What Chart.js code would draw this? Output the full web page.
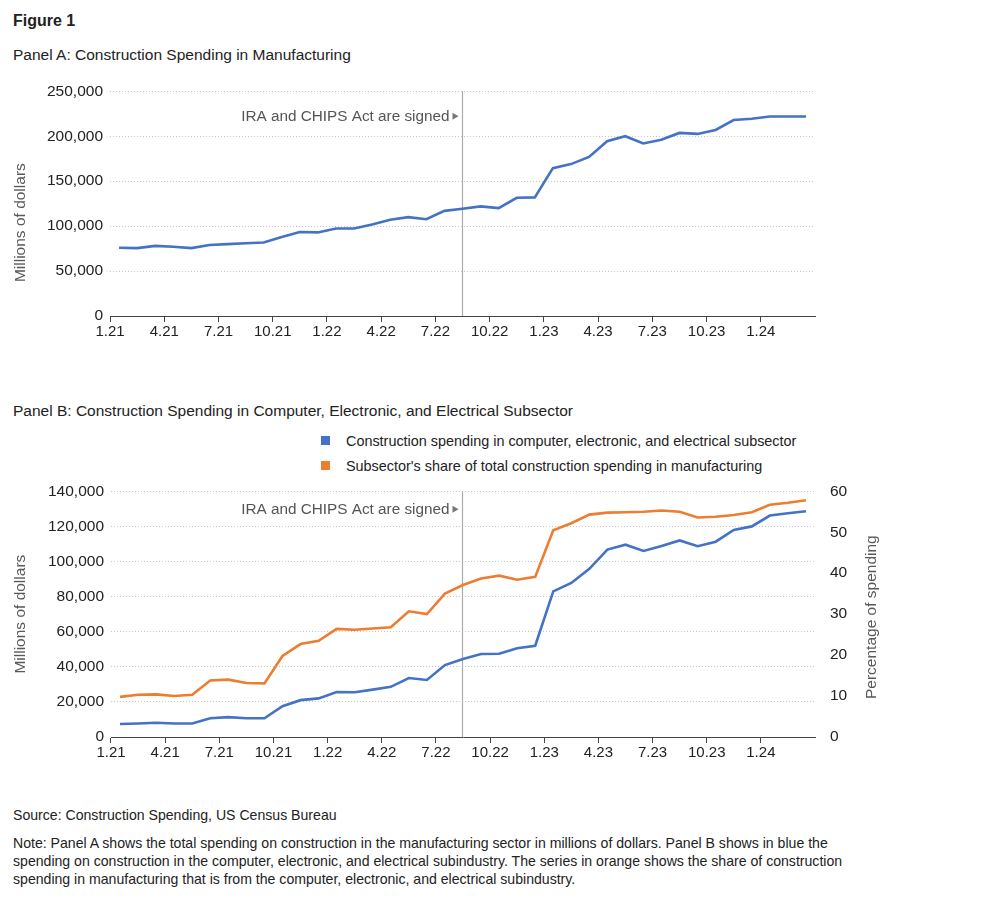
<!DOCTYPE html>
<html>
<head>
<meta charset="utf-8">
<script src="https://cdn.jsdelivr.net/npm/chart.js@4.4.1/dist/chart.umd.min.js"></script>
<style>
  body { margin: 0; background: #fff; font-family: "Liberation Sans", Arial, sans-serif; color: #222; }
  .t { position: absolute; left: 13px; white-space: nowrap; line-height: 18px; }
  .box { position: absolute; left: 0; width: 991px; }
  .leg { position: absolute; left: 346px; font-size: 14.4px; line-height: 18px; white-space: nowrap; }
  .sq { position: absolute; left: -25px; top: 4px; width: 9px; height: 9px; }
</style>
</head>
<body>
<div class="t" style="top:12px;font-size:16px;font-weight:bold;">Figure 1</div>
<div class="t" style="top:46px;font-size:15.5px;">Panel A: Construction Spending in Manufacturing</div>
<div class="box" style="top:75px;height:275px;"><canvas id="chartA"></canvas></div>

<div class="t" style="top:402px;font-size:15.5px;">Panel B: Construction Spending in Computer, Electronic, and Electrical Subsector</div>
<div class="leg" style="top:432px;"><span class="sq" style="background:#4472c4"></span>Construction spending in computer, electronic, and electrical subsector</div>
<div class="leg" style="top:457px;"><span class="sq" style="background:#ed7d31"></span>Subsector's share of total construction spending in manufacturing</div>
<div class="box" style="top:475px;height:300px;"><canvas id="chartB"></canvas></div>

<div class="t" style="top:806px;font-size:14.1px;">Source: Construction Spending, US Census Bureau</div>
<div class="t" style="top:834px;font-size:14.1px;">Note: Panel A shows the total spending on construction in the manufacturing sector in millions of dollars. Panel B shows in blue the<br>spending on construction in the computer, electronic, and electrical subindustry. The series in orange shows the share of construction<br>spending in manufacturing that is from the computer, electronic, and electrical subindustry.</div>

<script>
const months = ['1.21','2.21','3.21','4.21','5.21','6.21','7.21','8.21','9.21','10.21','11.21','12.21',
  '1.22','2.22','3.22','4.22','5.22','6.22','7.22','8.22','9.22','10.22','11.22','12.22',
  '1.23','2.23','3.23','4.23','5.23','6.23','7.23','8.23','9.23','10.23','11.23','12.23',
  '1.24','2.24','3.24'];

// millions of dollars
const manufacturing = [76000, 75500, 78000, 77000, 75500, 79000, 80000, 81000, 81700, 88000, 93400, 93000,
  97400, 97400, 101800, 107000, 110000, 107700, 117000, 119400, 122000, 120000, 131500, 132000,
  164500, 169000, 177000, 194500, 200000, 192000, 196000, 203700, 202600, 207000, 218000, 219400,
  222000, 222000, 222000];

const computer = [7400, 7700, 8100, 7700, 7700, 10700, 11300, 10700, 10700, 17500, 21000, 22000,
  25600, 25500, 27000, 28600, 33600, 32500, 41000, 44500, 47300, 47400, 50600, 52000,
  83000, 87800, 95800, 106800, 109600, 106000, 108900, 112000, 108700, 111300, 118000, 120000,
  126200, 127500, 128600];

// percent of total manufacturing construction spending
const share = [9.8, 10.3, 10.4, 10.0, 10.3, 13.8, 14.0, 13.2, 13.1, 19.8, 22.7, 23.5,
  26.4, 26.2, 26.5, 26.8, 30.7, 30.0, 35.0, 37.1, 38.7, 39.4, 38.4, 39.1,
  50.5, 52.2, 54.3, 54.8, 54.9, 55.0, 55.3, 55.0, 53.6, 53.8, 54.2, 54.9,
  56.7, 57.2, 57.8];

const eventMonth = '8.22';
const eventText = 'IRA and CHIPS Act are signed';

const blue = '#4472c4';
const orange = '#ed7d31';
const family = '"Liberation Sans", Arial, sans-serif';

// vertical marker line + label
const eventLine = {
  id: 'eventLine',
  beforeDatasetsDraw(chart, args, opts) {
    const { ctx, chartArea } = chart;
    const x = Math.round(chart.scales.x.getPixelForValue(months.indexOf(eventMonth)) - 1) + 0.5;
    ctx.save();
    ctx.strokeStyle = '#aaa';
    ctx.lineWidth = 1.2;
    ctx.beginPath();
    ctx.moveTo(x, chartArea.top);
    ctx.lineTo(x, chartArea.bottom);
    ctx.stroke();
    const y = chartArea.top + opts.offset;
    ctx.fillStyle = '#555';
    ctx.font = '15.3px ' + family;
    ctx.textAlign = 'right';
    ctx.textBaseline = 'middle';
    ctx.fillText(eventText, x - 13, y);
    ctx.fillStyle = '#777';
    ctx.beginPath();
    ctx.moveTo(x - 10, y - 3.5);
    ctx.lineTo(x - 4, y);
    ctx.lineTo(x - 10, y + 3.5);
    ctx.closePath();
    ctx.fill();
    ctx.restore();
  }
};

// axis titles, both reading bottom to top
const axisTitles = {
  id: 'axisTitles',
  afterDraw(chart, args, opts) {
    const { ctx, chartArea } = chart;
    const mid = (chartArea.top + chartArea.bottom) / 2;
    ctx.save();
    ctx.fillStyle = '#595959';
    ctx.font = '15.5px ' + family;
    ctx.textAlign = 'center';
    ctx.textBaseline = 'middle';
    opts.items.forEach(t => {
      ctx.save();
      ctx.translate(t.x, mid + t.dy);
      ctx.rotate(-Math.PI / 2);
      ctx.fillText(t.text, 0, 0);
      ctx.restore();
    });
    ctx.restore();
  }
};

function xAxis(height) {
  return {
    type: 'category',
    offset: true,
    grid: {
      offset: true,
      drawOnChartArea: false,
      tickLength: 6,
      tickColor: c => (c.index % 3 === 0 ? '#444' : 'transparent')
    },
    border: { display: true, color: '#444' },
    ticks: {
      autoSkip: false,
      maxRotation: 0,
      labelOffset: -9,
      padding: 1,
      color: '#222',
      font: { family: family, size: 15 },
      callback: (v, i) => (i % 3 === 0 ? months[i] : '')
    },
    afterFit: s => { s.height = height; }
  };
}

function yAxis(max, step, width) {
  return {
    min: 0, max: max,
    grid: { color: '#c8c8c8', drawTicks: false, lineWidth: 1 },
    border: { display: false, dash: [1, 2] },
    ticks: {
      stepSize: step, padding: 7, color: '#222', font: { family: family, size: 15.5 },
      callback: v => v.toLocaleString('en-US')
    },
    afterFit: s => { s.width = width; }
  };
}

const lineStyle = { pointRadius: 0, borderWidth: 2.6, tension: 0, fill: false };

new Chart(document.getElementById('chartA'), {
  type: 'line',
  data: {
    labels: months,
    datasets: [Object.assign({ label: 'Construction spending in manufacturing', data: manufacturing, borderColor: blue }, lineStyle)]
  },
  options: {
    responsive: true, maintainAspectRatio: false, animation: false,
    layout: { padding: { top: 14, right: 176, bottom: 0, left: 0 } },
    plugins: {
      legend: { display: false }, tooltip: { enabled: false },
      eventLine: { offset: 25 },
      axisTitles: { items: [{ text: 'Millions of dollars', x: 21, dy: 19 }] }
    },
    scales: {
      x: xAxis(34),
      y: yAxis(250000, 50000, 110)
    }
  },
  plugins: [eventLine, axisTitles]
});

new Chart(document.getElementById('chartB'), {
  type: 'line',
  data: {
    labels: months,
    datasets: [
      Object.assign({ label: 'Construction spending in computer, electronic, and electrical subsector', data: computer, borderColor: blue, yAxisID: 'y' }, lineStyle),
      Object.assign({ label: "Subsector's share of total construction spending in manufacturing", data: share, borderColor: orange, yAxisID: 'y1' }, lineStyle)
    ]
  },
  options: {
    responsive: true, maintainAspectRatio: false, animation: false,
    layout: { padding: { top: 9, right: 106, bottom: 0, left: 0 } },
    plugins: {
      legend: { display: false }, tooltip: { enabled: false },
      eventLine: { offset: 18 },
      axisTitles: { items: [
        { text: 'Millions of dollars', x: 21, dy: 0 },
        { text: 'Percentage of spending', x: 872, dy: 3 }
      ] }
    },
    scales: {
      x: xAxis(38),
      y: yAxis(140000, 20000, 111),
      y1: {
        position: 'right',
        min: 0, max: 60,
        grid: { display: false },
        border: { display: false },
        ticks: { stepSize: 10, padding: 7, color: '#222', font: { family: family, size: 15.5 } },
        afterFit: s => { s.width = 70; }
      }
    }
  },
  plugins: [eventLine, axisTitles]
});
</script>
</body>
</html>
